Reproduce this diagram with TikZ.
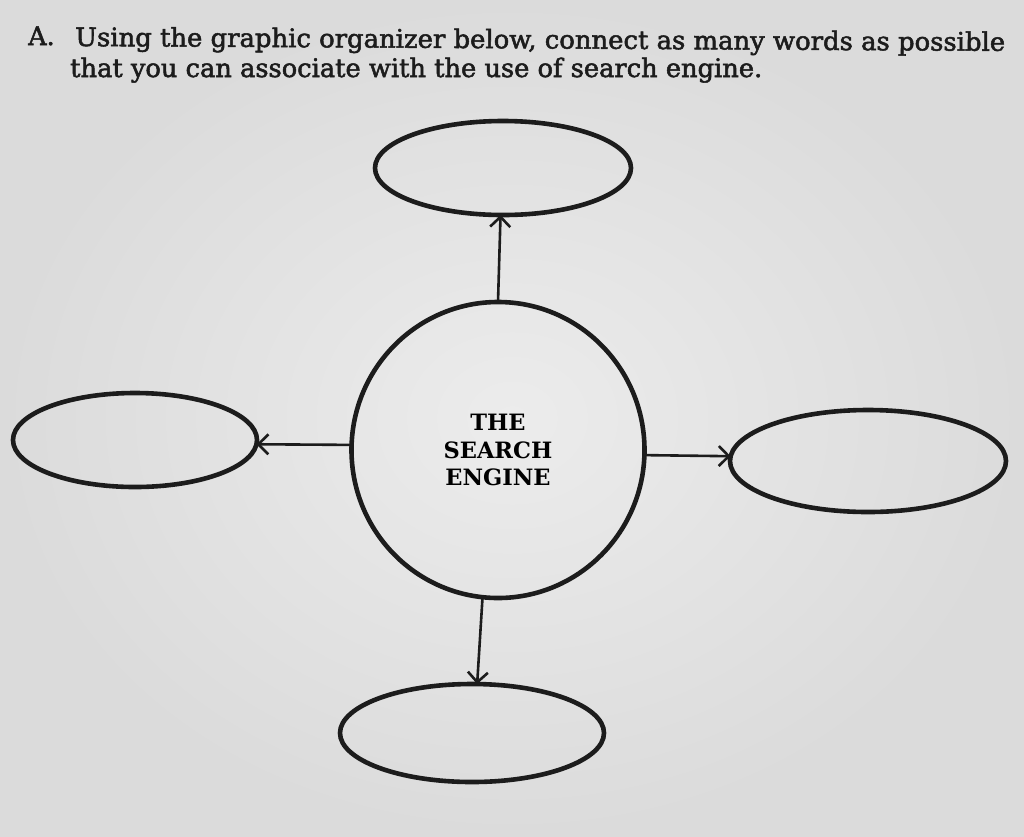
\documentclass[tikz,border=0pt]{standalone}
\usepackage{fontspec}
\usepackage{graphicx}
\setmainfont{DejaVu Serif}
\newfontfamily\headfont[FakeBold=2]{DejaVu Serif}
\usetikzlibrary{shapes.geometric,arrows.meta}
\definecolor{paperin}{RGB}{236,236,236}
\definecolor{paperout}{RGB}{219,219,219}
\definecolor{ink}{RGB}{28,28,28}
\newcommand\fitwide[2]{\resizebox{#1}{\height}{#2}}
\begin{document}
\begin{tikzpicture}[x=1pt,y=-1pt,
  bubble/.style={ellipse,draw=ink,line width=4.6pt,inner sep=0pt,outer sep=0pt},
  arr/.style={draw=ink,line width=2.6pt,-{Straight Barb[length=10pt,width=20pt,line width=2.6pt]}},
  head/.style={anchor=base west,inner sep=0pt,text=ink,font=\headfont\fontsize{25.5}{30}\selectfont}]
\shade[inner color=paperin,outer color=paperout] (0,0) rectangle (1024,836);
\useasboundingbox (0,0) rectangle (1024,836);
\node[head] (la) at (28,45) {A.};
\node[head,rotate=-0.3] (l1) at (75,46) {\fitwide{930pt}{Using the graphic organizer below, connect as many words as possible}};
\node[head] (l2) at (70,77) {\fitwide{692pt}{that you can associate with the use of search engine.}};
\node[bubble,minimum width=293pt,minimum height=296pt,align=center,
      font=\bfseries\fontsize{22.5}{27.5}\selectfont] (c) at (498,450) {THE\\SEARCH\\ENGINE};
\node[bubble,minimum width=256pt,minimum height=94pt] (top) at (503,168) {};
\node[bubble,minimum width=244pt,minimum height=94pt] (left) at (135,440) {};
\node[bubble,minimum width=276pt,minimum height=102pt] (right) at (868,461) {};
\node[bubble,minimum width=264pt,minimum height=98pt] (bottom) at (472,733) {};
\draw[arr] (c.90.8) -- (top.-93);
\draw[arr] (c.178) -- (left.-2);
\draw[arr] (c.-2) -- (right.178.7);
\draw[arr] (c.-96.5) -- (bottom.84);
\end{tikzpicture}
\end{document}
